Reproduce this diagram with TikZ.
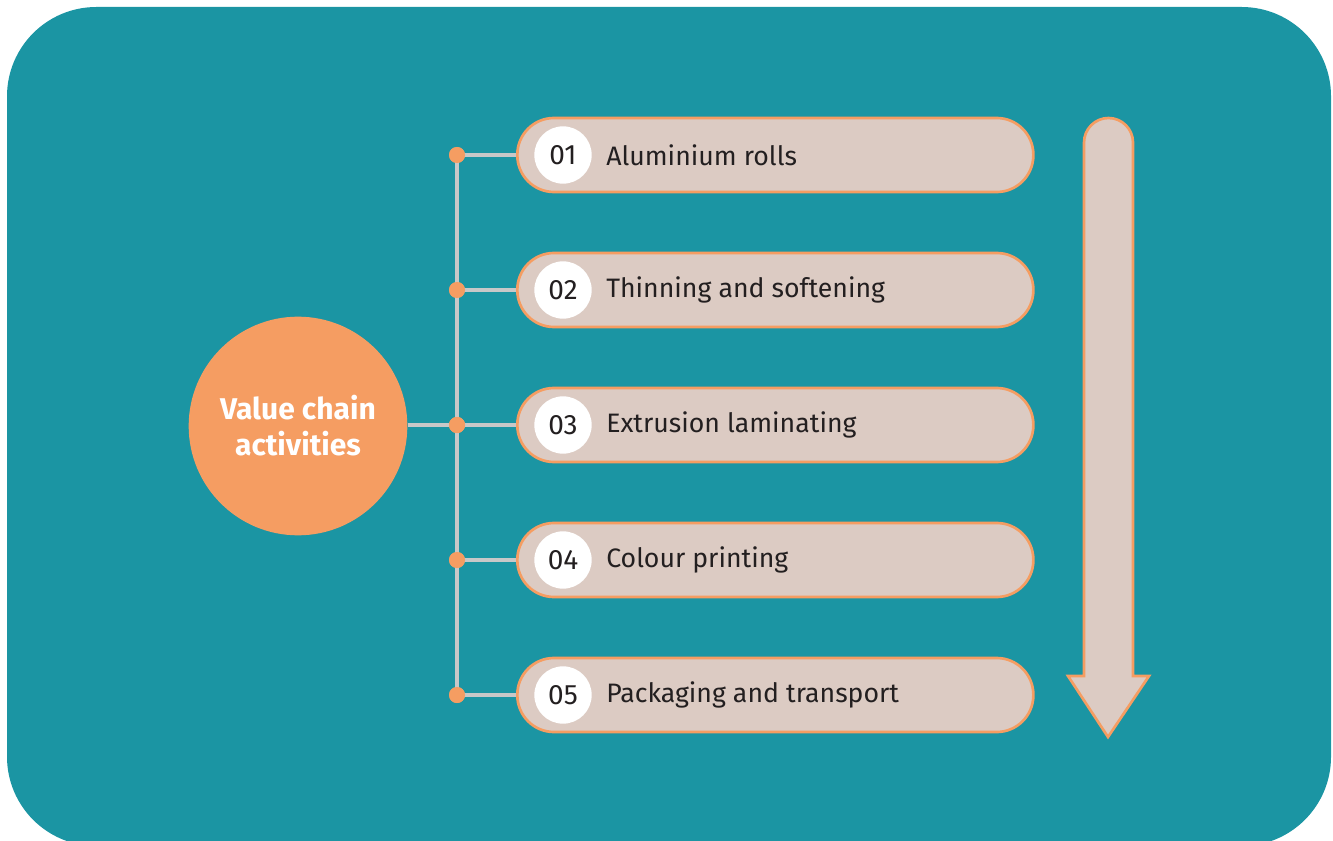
\documentclass[tikz,border=0pt]{standalone}
\usepackage{fontspec}
\setmainfont{Fira Sans}
\usetikzlibrary{shapes}

\definecolor{bgteal}{RGB}{27,149,163}
\definecolor{vcorange}{RGB}{245,157,98}
\definecolor{vcbeige}{RGB}{220,203,195}
\definecolor{vcgrey}{RGB}{200,200,200}
\definecolor{vcink}{RGB}{35,31,32}

\begin{document}
\begin{tikzpicture}[x=0.75pt,y=-0.75pt]
		\tikzset{pill/.style={draw=vcorange,line width=2pt,fill=vcbeige,rounded corners=27.5pt,minimum width=387pt,minimum height=55.5pt,anchor=west}}
		\tikzset{numdisc/.style={circle,fill=white,minimum size=43pt,inner sep=0pt,text=vcink,font=\fontsize{21}{25}\selectfont}}
		\tikzset{label/.style={anchor=west,text=vcink,font=\fontsize{20}{24}\selectfont,inner sep=0pt}}
		\tikzset{dot/.style={circle,fill=vcorange,minimum size=12pt,inner sep=0pt}}
		\tikzset{spine/.style={draw=vcgrey,line width=2.8pt}}
		\tikzset{hub/.style={circle,fill=vcorange,minimum size=164pt,inner sep=0pt,text=white,align=center,font=\fontsize{22.5}{27}\bfseries\selectfont}}
		\useasboundingbox (0,0) rectangle (1333,841);
		\clip (0,0) rectangle (1333,841);
		% background panel
		\fill[bgteal,rounded corners=67pt] (7,7) rectangle (1331,846);
		% value chain steps
		\foreach \i/\txt in {1/Aluminium rolls,2/Thinning and softening,3/Extrusion laminating,4/Colour printing,5/Packaging and transport}{
			\node[pill] (act\i) at (516,20+135*\i) {};
			\node[numdisc] (num\i) at (563,20+135*\i) {0\i};
			\node[label] (lab\i) at (606,20+135*\i) {\txt};
			\node[dot] (d\i) at (457,20+135*\i) {};
		}
		\draw[spine] (d1.center) -- (d5.center);
		\foreach \i in {1,...,5}{
			\draw[spine] (d\i.center) -- (act\i.west);
			\node[dot] at (d\i) {};
		}
		\node[hub] (hub) at (298,426) {Value chain\\activities};
		\draw[spine] (hub.east |- d3) -- (d3);
		\node[dot] at (d3) {};
		% down arrow
		\draw[draw=vcorange,line width=2pt,fill=vcbeige,rounded corners=18.4pt] (1084,676) -- (1084,118) -- (1133,118) [sharp corners] -- (1133,676) -- (1149,676) -- (1108,737) -- (1068,676) -- cycle;
\end{tikzpicture}
\end{document}
